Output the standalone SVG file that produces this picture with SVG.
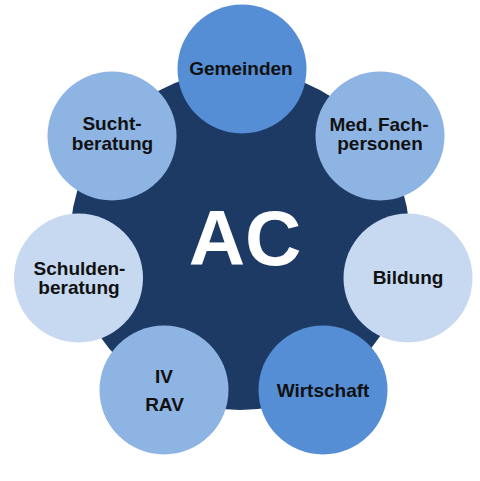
<svg xmlns="http://www.w3.org/2000/svg" width="480" height="481" viewBox="0 0 480 481">
<style>
.lbl{font-family:"Liberation Sans",Arial,sans-serif;font-weight:bold;font-size:19px;fill:#111;text-anchor:middle}
.c1{fill:#558ed5}
.c2{fill:#8eb4e3}
.c3{fill:#c6d9f1}
</style>
<rect width="480" height="481" fill="#fff"/>
<g id="center">
<circle cx="240" cy="240" r="170" fill="#1c3a64"/>
<text x="245" y="265" font-family="'Liberation Sans',Arial,sans-serif" font-weight="bold" font-size="78" fill="#fff" text-anchor="middle">AC</text>
</g>
<g id="connectors"></g>
<g id="gemeinden"><circle class="c1" cx="242" cy="69" r="64.5"/><text class="lbl" x="241" y="75">Gemeinden</text></g>
<g id="med"><circle class="c2" cx="380" cy="136" r="64.5"/><text class="lbl" x="379" y="131">Med. Fach-</text><text class="lbl" x="380" y="150">personen</text></g>
<g id="bildung"><circle class="c3" cx="408" cy="278" r="64.5"/><text class="lbl" x="408" y="284">Bildung</text></g>
<g id="wirtschaft"><circle class="c1" cx="323" cy="390" r="64.5"/><text class="lbl" x="323" y="397">Wirtschaft</text></g>
<g id="ivrav"><circle class="c2" cx="164" cy="390" r="64.5"/><text class="lbl" x="164" y="383">IV</text><text class="lbl" x="164.5" y="411">RAV</text></g>
<g id="schulden"><circle class="c3" cx="78.5" cy="278" r="64.5"/><text class="lbl" x="79.5" y="275">Schulden-</text><text class="lbl" x="79" y="294">beratung</text></g>
<g id="sucht"><circle class="c2" cx="112" cy="136" r="64.5"/><text class="lbl" x="112" y="130">Sucht-</text><text class="lbl" x="112.5" y="150">beratung</text></g>
</svg>
